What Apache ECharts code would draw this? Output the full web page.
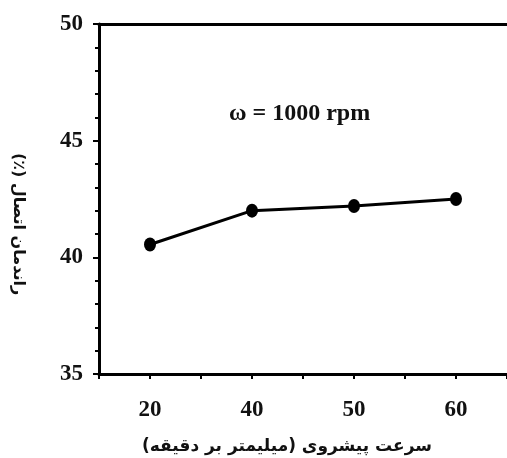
<!DOCTYPE html>
<html>
<head>
<meta charset="utf-8">
<script src="https://cdn.jsdelivr.net/npm/echarts@6/dist/echarts.min.js"></script>
<style>
  html, body { margin: 0; padding: 0; background: #fff; }
  #main { width: 507px; height: 458px; }
</style>
</head>
<body>
<div id="main"></div>
<script>
// feed rate (mm/min) vs joint efficiency (%)
let feedRates = ['20', '40', '50', '60'];
let efficiency = [40.55, 42.0, 42.2, 42.5];
let yTicks = [35, 40, 45, 50];

let chart = echarts.init(document.getElementById('main'));
let serif = 'Liberation Serif';

// RLE ... PDF so the canvas lays the Persian titles out right-to-left
let xTitle = '\u202Bسرعت پیشروی (میلیمتر بر دقیقه)\u202C';
let yTitle = '\u202Bراندمان اتصال (٪)\u202C';

let option = {
  animation: false,
  grid: { left: 99, right: 0, top: 24, bottom: 84, outerBoundsMode: 'none' },
  graphic: [
    {
      type: 'text',
      x: 229, y: 114,
      style: {
        text: 'ω = 1000 rpm',
        font: 'bold 24px "Liberation Serif"',
        fill: '#111',
        verticalAlign: 'middle'
      }
    },
    {
      type: 'text',
      x: 18, y: 224,
      rotation: -Math.PI / 2,
      style: {
        text: yTitle,
        font: 'bold 16px "DejaVu Sans"',
        fill: '#111',
        align: 'center',
        verticalAlign: 'middle'
      }
    },
    {
      type: 'text',
      x: 287, y: 447,
      style: {
        text: xTitle,
        font: 'bold 17px "DejaVu Sans"',
        fill: '#111',
        align: 'center',
        verticalAlign: 'middle'
      }
    }
  ],
  xAxis: [
    {
      type: 'category',
      data: feedRates,
      boundaryGap: true,
      position: 'bottom',
      axisLine: { lineStyle: { color: '#000', width: 3 } },
      axisTick: { show: true, interval: 0, length: 5, lineStyle: { color: '#000', width: 2 } },
      axisLabel: { fontFamily: serif, fontWeight: 'bold', fontSize: 23, color: '#111', margin: 25 }
    },
    {
      type: 'category',
      data: feedRates,
      boundaryGap: true,
      position: 'bottom',
      axisLine: { show: false },
      axisTick: { show: true, alignWithLabel: true, interval: 0, length: 5, lineStyle: { color: '#000', width: 2 } },
      axisLabel: { show: false }
    },
    {
      type: 'category',
      data: feedRates,
      boundaryGap: true,
      position: 'top',
      axisLine: { lineStyle: { color: '#000', width: 3 } },
      axisTick: { show: false },
      axisLabel: { show: false }
    }
  ],
  yAxis: {
    type: 'value',
    min: yTicks[0],
    max: yTicks[yTicks.length - 1],
    interval: 5,
    axisLine: { show: true, lineStyle: { color: '#000', width: 3 } },
    axisTick: { show: true, length: 6, lineStyle: { color: '#000', width: 2 } },
    minorTick: { show: true, splitNumber: 5, length: 4, lineStyle: { color: '#000', width: 2 } },
    splitLine: { show: false },
    axisLabel: { fontFamily: serif, fontWeight: 'bold', fontSize: 23, color: '#111', margin: 16 }
  },
  series: [
    {
      type: 'line',
      data: efficiency,
      xAxisIndex: 0,
      symbol: 'circle',
      symbolSize: [12, 14],
      itemStyle: { color: '#000' },
      lineStyle: { color: '#000', width: 3 }
    }
  ]
};

chart.setOption(option);
</script>
</body>
</html>
